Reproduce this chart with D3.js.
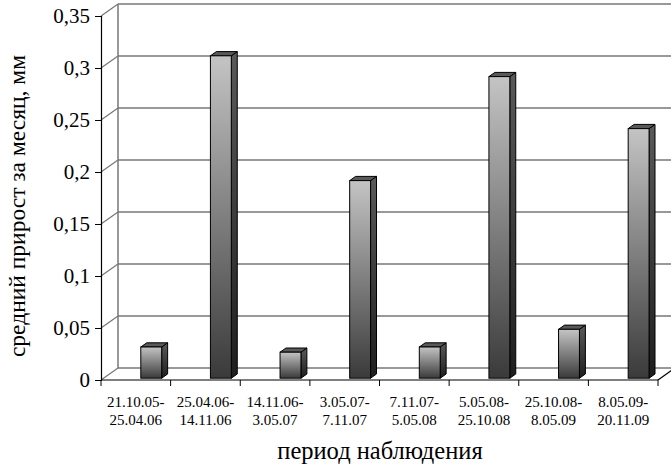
<!DOCTYPE html>
<html>
<head>
<meta charset="utf-8">
<script src="https://cdn.jsdelivr.net/npm/d3@7"></script>
<style>
  html, body { margin: 0; padding: 0; background: #fff; }
  svg { display: block; }
  svg text { font-family: "Liberation Serif", "Times New Roman", "DejaVu Serif", serif; }
</style>
</head>
<body>
<svg id="chart" width="671" height="471"></svg>
<script>
// Observation periods (two-line labels) and mean monthly growth, mm
const periodStart = ["21.10.05-", "25.04.06-", "14.11.06-", "3.05.07-", "7.11.07-", "5.05.08-", "25.10.08-", "8.05.09-"];
const periodEnd   = ["25.04.06", "14.11.06", "3.05.07", "7.11.07", "5.05.08", "25.10.08", "8.05.09", "20.11.09"];
const growth      = [0.03, 0.31, 0.025, 0.19, 0.03, 0.29, 0.047, 0.24];
const yTicks      = [0, 0.05, 0.1, 0.15, 0.2, 0.25, 0.3, 0.35];
const yTitle = "средний прирост за месяц, мм";
const xTitle = "период наблюдения";

const SERIF = "'Liberation Serif', 'Times New Roman', 'DejaVu Serif', serif";
const svg = d3.select("#chart");
const cats = periodStart.map((s, i) => i);

const x = d3.scaleBand().domain(cats).range([101, 658]);
const y = d3.scaleLinear().domain([0, 0.35]).range([380, 16]);
const fmt = v => String(v).replace(".", ",");

// 3-D depth of the plot box
const DX = 17, DY = -12;

// gradients for bar faces
const defs = svg.append("defs");
const gFront = defs.append("linearGradient").attr("id", "front").attr("x1", 0).attr("y1", 0).attr("x2", 0).attr("y2", 1);
gFront.append("stop").attr("offset", "0%").attr("stop-color", "#c4c4c4");
gFront.append("stop").attr("offset", "100%").attr("stop-color", "#3a3a3a");
const gSide = defs.append("linearGradient").attr("id", "side").attr("x1", 0).attr("y1", 0).attr("x2", 0).attr("y2", 1);
gSide.append("stop").attr("offset", "0%").attr("stop-color", "#5a5a5a");
gSide.append("stop").attr("offset", "100%").attr("stop-color", "#1e1e1e");

// back-wall gridlines
svg.append("g").selectAll("line").data(yTicks).join("line")
  .attr("x1", 101 + DX).attr("x2", 690)
  .attr("y1", d => y(d) + DY).attr("y2", d => y(d) + DY)
  .attr("stroke", "#777").attr("stroke-width", 1.5);

// side-wall diagonals
svg.append("g").selectAll("line").data(yTicks).join("line")
  .attr("x1", 101).attr("x2", 101 + DX)
  .attr("y1", d => y(d)).attr("y2", d => y(d) + DY)
  .attr("stroke", "#777").attr("stroke-width", 1.2);

// back-wall left edge
svg.append("line")
  .attr("x1", 101 + DX).attr("x2", 101 + DX)
  .attr("y1", y(0.35) + DY).attr("y2", y(0) + DY)
  .attr("stroke", "#777").attr("stroke-width", 1.5);

// y axis
const yAxis = d3.axisLeft(y).tickValues(yTicks).tickFormat(fmt).tickSizeOuter(0).tickSize(6).tickPadding(5);
const gy = svg.append("g").attr("transform", "translate(101,0)").call(yAxis)
  .attr("font-family", SERIF).attr("font-size", 21);
gy.select(".domain").attr("stroke", "#000").attr("stroke-width", 1.2);
gy.selectAll(".tick line").attr("stroke", "#000");
gy.selectAll(".tick text").attr("fill", "#000");

// x axis baseline + right floor edge
svg.append("line").attr("x1", 101).attr("x2", 658).attr("y1", y(0)).attr("y2", y(0))
  .attr("stroke", "#000").attr("stroke-width", 1.2);
svg.append("line").attr("x1", 658).attr("x2", 658 + DX).attr("y1", y(0)).attr("y2", y(0) + DY)
  .attr("stroke", "#000").attr("stroke-width", 1.2);

// category boundary ticks
const bounds = cats.map(c => x(c)).concat([x(cats[cats.length - 1]) + x.bandwidth()]);
svg.append("g").selectAll("line").data(bounds).join("line")
  .attr("x1", d => d).attr("x2", d => d)
  .attr("y1", y(0)).attr("y2", y(0) + 6)
  .attr("stroke", "#000").attr("stroke-width", 1);

// category labels
const bw = x.bandwidth();
const lab = svg.append("g").attr("font-family", SERIF).selectAll("text").data(cats).join("text")
  .attr("x", c => x(c) + bw / 2)
  .attr("text-anchor", "middle")
  .attr("font-size", 15).attr("fill", "#000");
lab.append("tspan").attr("x", c => x(c) + bw / 2).attr("y", 407).text(c => periodStart[c]);
lab.append("tspan").attr("x", c => x(c) + bw / 2).attr("y", 425).text(c => periodEnd[c]);

// bars (3-D columns)
const d0 = 0.15, d1 = 0.5;       // depth range of columns
const fx = c => x(c) + bw * 0.535 + DX * d0;
const fw = bw * 0.30;
const sdx = DX * (d1 - d0), sdy = DY * (d1 - d0);
const bars = svg.append("g").selectAll("g").data(cats).join("g");
bars.each(function (c) {
  const g = d3.select(this);
  const x0 = fx(c), x1 = x0 + fw;
  const yb = y(0) + DY * d0, yt = y(growth[c]) + DY * d0;
  // side face
  g.append("path")
    .attr("d", `M${x1},${yt}L${x1 + sdx},${yt + sdy}L${x1 + sdx},${yb + sdy}L${x1},${yb}Z`)
    .attr("fill", "url(#side)").attr("stroke", "#000").attr("stroke-width", 1).attr("stroke-linejoin", "round");
  // top face
  g.append("path")
    .attr("d", `M${x0},${yt}L${x0 + sdx},${yt + sdy}L${x1 + sdx},${yt + sdy}L${x1},${yt}Z`)
    .attr("fill", "#595959").attr("stroke", "#000").attr("stroke-width", 1).attr("stroke-linejoin", "round");
  // front face
  g.append("rect")
    .attr("x", x0).attr("y", yt).attr("width", fw).attr("height", yb - yt)
    .attr("fill", "url(#front)").attr("stroke", "#000").attr("stroke-width", 1);
});

// axis titles
svg.append("text")
  .attr("transform", "translate(25,206) rotate(-90)")
  .attr("text-anchor", "middle").attr("font-family", SERIF).attr("font-size", 23.5).attr("fill", "#000")
  .text(yTitle);
svg.append("text")
  .attr("x", 380).attr("y", 459)
  .attr("text-anchor", "middle").attr("font-family", SERIF).attr("font-size", 24.5).attr("fill", "#000")
  .text(xTitle);
</script>
</body>
</html>
